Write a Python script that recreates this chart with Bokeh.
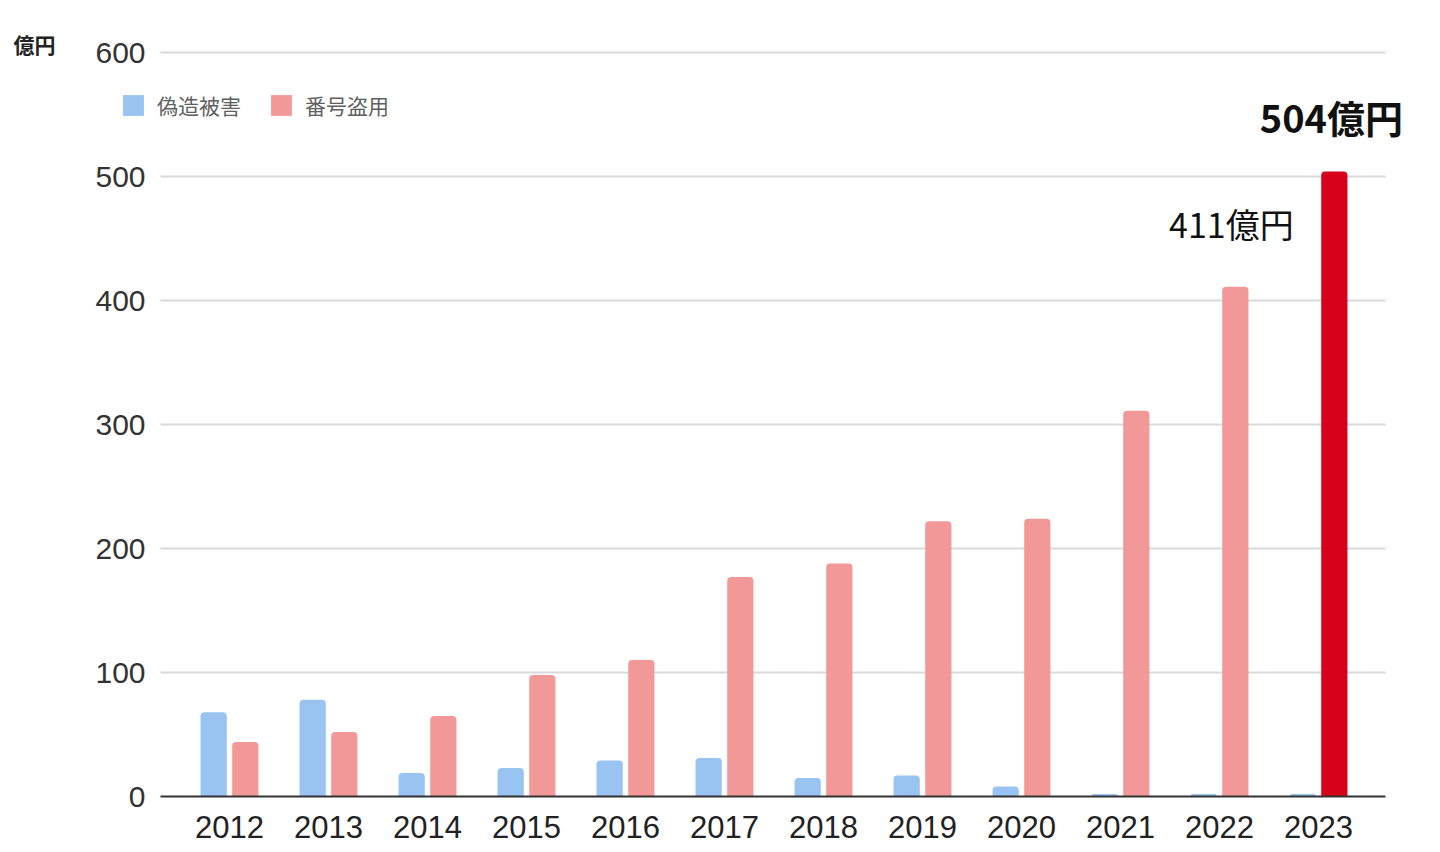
from bokeh.plotting import figure
from bokeh.models import (ColumnDataSource, Range1d, Legend, LegendItem, Label)
from bokeh.transform import dodge
from bokeh.core.properties import value
from bokeh.embed import file_html
from bokeh.resources import INLINE

years = ["2012", "2013", "2014", "2015", "2016", "2017", "2018", "2019", "2020", "2021", "2022", "2023"]
forgery = [68, 78, 19, 23, 29, 31, 15, 17, 8, 2, 2, 2]
number_theft = [44, 52, 65, 98, 110, 177, 188, 222, 224, 311, 411, 504]
series_names = ["偽造被害", "番号盗用"]
unit_label = "億円"
y_ticks = [0, 100, 200, 300, 400, 500, 600]
callout_years = ["2022", "2023"]

BLUE = "#99C3F1"
PINK = "#F29898"
RED = "#D6001B"

# layout constants (canvas pixels)
W, H = 1440, 852
PX_PER_CAT = 99.0
FIRST_CAT_PX = 229.0
PLOT_LEFT_PX, PLOT_RIGHT_PX = 160.0, 1385.0
AXIS_PX = 796.0
PX_PER_UNIT = 1.24
LEGEND_LEFT_PX, LEGEND_BOTTOM_PX = 120, 120

idx = list(range(len(years)))
theft_colors = [RED if y == years[-1] else PINK for y in years]
src = ColumnDataSource(dict(idx=idx, year=years, forgery=forgery, theft=number_theft, theft_color=theft_colors))

x_start = -FIRST_CAT_PX / PX_PER_CAT
x_end = x_start + W / PX_PER_CAT
y_start = -(H - AXIS_PX) / PX_PER_UNIT
y_end = AXIS_PX / PX_PER_UNIT
grid_left = (PLOT_LEFT_PX - FIRST_CAT_PX) / PX_PER_CAT
grid_right = (PLOT_RIGHT_PX - FIRST_CAT_PX) / PX_PER_CAT

p = figure(x_range=Range1d(x_start, x_end), y_range=Range1d(y_start, y_end),
           width=W, height=H, output_backend="svg", toolbar_location=None,
           min_border_left=0, min_border_right=0, min_border_top=0, min_border_bottom=0)
p.outline_line_color = None
p.xgrid.grid_line_color = None
p.ygrid.grid_line_color = None
p.xaxis.visible = False
p.yaxis.visible = False

# grid lines (drawn as segments so they only span the plot body)
gl = [t for t in y_ticks if t > 0]
p.segment(x0=[grid_left] * len(gl), x1=[grid_right] * len(gl), y0=gl, y1=gl,
          line_color="#d9d9d9", line_width=2)

# y tick labels
p.text(x=[grid_left] * len(y_ticks), y=y_ticks, text=[str(t) for t in y_ticks],
       x_offset=-15, text_align="right", text_baseline="middle",
       text_font=value("Liberation Sans"), text_font_size="30px", text_color="#333333")

r1 = p.vbar(x=dodge("idx", -0.16), top="forgery", bottom=0, width=0.265, source=src,
            fill_color=BLUE, line_color=None, border_radius=[4, 4, 0, 0])
r2 = p.vbar(x=dodge("idx", 0.16), top="theft", bottom=0, width=0.265, source=src,
            fill_color="theft_color", line_color=None, border_radius=[4, 4, 0, 0])

# x axis line and category labels
p.segment(x0=[grid_left], x1=[grid_right], y0=[y_ticks[0]], y1=[y_ticks[0]],
          line_color="#333333", line_width=2)
p.text(x="idx", y=0, text="year", source=src, y_offset=30,
       text_align="center", text_baseline="middle",
       text_font=value("Liberation Sans"), text_font_size="31px", text_color="#222222")

legend = Legend(items=[LegendItem(label=series_names[0], renderers=[r1], index=0),
                       LegendItem(label=series_names[1], renderers=[r2], index=0)],
                orientation="horizontal", location=(LEGEND_LEFT_PX, H - LEGEND_BOTTOM_PX),
                margin=0, padding=0,
                glyph_width=26, glyph_height=26, label_standoff=11, spacing=27,
                border_line_color=None, background_fill_alpha=0,
                label_text_font="Noto Sans CJK JP", label_text_font_size="21px",
                label_text_color="#606060")
p.add_layout(legend, "center")

# unit label
p.add_layout(Label(x=grid_left, y=y_ticks[-1], x_offset=-147, y_offset=9, text=unit_label,
                   text_font="Noto Sans CJK JP", text_font_size="21px", text_font_style="bold",
                   text_color="#222222", text_align="left", text_baseline="middle"))

# callouts
c1 = years.index(callout_years[0])
c2 = years.index(callout_years[1])
p.add_layout(Label(x=c1 + 0.16, y=number_theft[c1], x_offset=-4, y_offset=63,
                   text=f"{number_theft[c1]}億円",
                   text_font="Noto Sans CJK JP", text_font_size="34px", text_color="#111111",
                   text_align="center", text_baseline="middle"))
p.add_layout(Label(x=c2 + 0.16, y=number_theft[c2], x_offset=-3, y_offset=55,
                   text=f"{number_theft[c2]}億円",
                   text_font="Noto Sans CJK JP", text_font_size="38px", text_font_style="bold",
                   text_color="#111111", text_align="center", text_baseline="middle"))

open("out.html", "w").write(file_html(p, INLINE))
